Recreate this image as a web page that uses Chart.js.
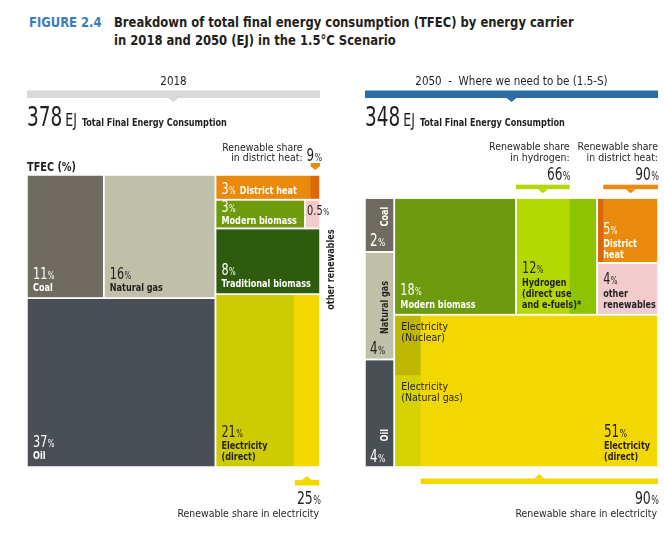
<!DOCTYPE html>
<html>
<head>
<meta charset="utf-8">
<script src="https://cdn.jsdelivr.net/npm/chart.js@4.4.1/dist/chart.umd.min.js"></script>
<style>
  body { margin: 0; background: #fff; width: 664px; height: 538px; overflow: hidden; position: relative;
         font-family: "DejaVu Sans Condensed", "DejaVu Sans", sans-serif; }
  #figno, #title { position: absolute; top: 13px; font-weight: bold; font-size: 14px; line-height: 18px;
                   transform: scaleX(0.92); transform-origin: 0 0; white-space: nowrap; }
  #figno { left: 29px; color: #3a7dbf; }
  #title { left: 114px; color: #231f20; }
  #c2018 { position: absolute; left: 0; top: 0; }
  #c2050 { position: absolute; left: 345px; top: 0; }
</style>
</head>
<body>
<div id="figno">FIGURE 2.4</div>
<div id="title">Breakdown of total final energy consumption (TFEC) by energy carrier<br>in 2018 and 2050 (EJ) in the 1.5°C Scenario</div>
<canvas id="c2018" width="345" height="538"></canvas>
<canvas id="c2050" width="319" height="538"></canvas>
<script>
// ---- data ----
const years = ["2018", "2050"];
const totalEJ = [378, 348];

const carriers2018 = ["Coal", "Natural gas", "Oil", "District heat", "Modern biomass",
  "Other renewables", "Traditional biomass", "Electricity (direct)"];
const share2018 = [11, 16, 37, 3, 3, 0.5, 8, 21];

const carriers2050 = ["Coal", "Natural gas", "Oil", "Modern biomass", "Hydrogen",
  "District heat", "Other renewables", "Electricity (direct)"];
const share2050 = [2, 4, 4, 18, 12, 5, 4, 51];

// renewable share inside a carrier (%)
const reCarriers2018 = ["District heat", "Electricity (direct)"];
const reShare2018 = [9, 25];
const reCarriers2050 = ["Hydrogen", "District heat", "Electricity (direct)"];
const reShare2050 = [66, 90, 90];

// split of the non-renewable electricity in 2050
const nonReElecSources2050 = ["Nuclear", "Natural gas"];
const nonReElecSplit2050 = [40, 60];

// how the cells are nested (h = side by side, v = stacked)
const tree2018 = { dir: "h", kids: [
  { dir: "v", kids: [{ dir: "h", kids: ["Coal", "Natural gas"] }, "Oil"] },
  { dir: "v", kids: ["District heat", { dir: "h", kids: ["Modern biomass", "Other renewables"] },
    "Traditional biomass", "Electricity (direct)"] }
] };
const tree2050 = { dir: "h", kids: [
  { dir: "v", kids: ["Coal", "Natural gas", "Oil"] },
  { dir: "v", kids: [
    { dir: "h", kids: ["Modern biomass", "Hydrogen", { dir: "v", kids: ["District heat", "Other renewables"] }] },
    "Electricity (direct)"] }
] };

const FAMILY = '"DejaVu Sans Condensed", "DejaVu Sans", sans-serif';
const DARK = "#231f20";
const WHITE = "#ffffff";
// horizontal squeeze to get the condensed look of the original type
const SQ_BOLD = 0.82, SQ_REG = 0.95, SQ_NUM = 0.78;

function font(size, bold) {
  return (bold ? "bold " : "") + size + "px " + FAMILY;
}

function valueOf(names, vals, name) {
  return vals[names.indexOf(name)];
}

// slice-and-dice layout in data units (0..100 on both axes, y up)
function buildRects(tree, names, vals) {
  const weight = (node) => typeof node === "string"
    ? valueOf(names, vals, node)
    : node.kids.reduce((s, k) => s + weight(k), 0);
  const out = {};
  (function place(node, r) {
    if (typeof node === "string") { out[node] = r; return; }
    const tot = weight(node);
    let pos = node.dir === "h" ? r.x0 : r.y1;
    node.kids.forEach((k) => {
      const f = weight(k) / tot;
      if (node.dir === "h") {
        const w = (r.x1 - r.x0) * f;
        place(k, { x0: pos, x1: pos + w, y0: r.y0, y1: r.y1 });
        pos += w;
      } else {
        const h = (r.y1 - r.y0) * f;
        place(k, { x0: r.x0, x1: r.x1, y0: pos - h, y1: pos });
        pos -= h;
      }
    });
  })(tree, { x0: 0, x1: 100, y0: 0, y1: 100 });
  return out;
}

function splitX(r, frac) {
  const m = r.x0 + (r.x1 - r.x0) * frac;
  return [{ x0: r.x0, x1: m, y0: r.y0, y1: r.y1 }, { x0: m, x1: r.x1, y0: r.y0, y1: r.y1 }];
}
function splitY(r, frac) {
  const m = r.y1 - (r.y1 - r.y0) * frac;
  return [{ x0: r.x0, x1: r.x1, y0: m, y1: r.y1 }, { x0: r.x0, x1: r.x1, y0: r.y0, y1: m }];
}

// data rect -> pixel box through the chart scales
function toPx(chart, r) {
  const sx = chart.scales.x, sy = chart.scales.y;
  return { l: sx.getPixelForValue(r.x0), r: sx.getPixelForValue(r.x1),
           t: sy.getPixelForValue(r.y1), b: sy.getPixelForValue(r.y0) };
}

function fillBox(ctx, b, color) {
  ctx.fillStyle = color;
  ctx.fillRect(b.l, b.t, b.r - b.l, b.b - b.t);
}
function outline(ctx, b) {
  ctx.strokeStyle = WHITE;
  ctx.lineWidth = 1.5;
  ctx.strokeRect(b.l, b.t, b.r - b.l, b.b - b.t);
}

function textWidth(ctx, s, f, sq) {
  ctx.font = f;
  return ctx.measureText(s).width * sq;
}

function text(ctx, s, x, y, f, color, align, sq) {
  sq = sq || SQ_REG;
  const w = textWidth(ctx, s, f, sq);
  let x0 = x;
  if (align === "right") x0 = x - w;
  else if (align === "center") x0 = x - w / 2;
  ctx.save();
  ctx.fillStyle = color;
  ctx.textAlign = "left";
  ctx.textBaseline = "alphabetic";
  ctx.translate(x0, y);
  ctx.scale(sq, 1);
  ctx.fillText(s, 0, 0);
  ctx.restore();
  return w;
}
const bold = (ctx, s, x, y, color, align) => text(ctx, s, x, y, font(11, true), color, align, SQ_BOLD);
const reg = (ctx, s, x, y, color, align) => text(ctx, s, x, y, font(11, false), color, align, SQ_REG);

function pctWidth(ctx, v, size, sq) {
  return textWidth(ctx, String(v), font(size, false), sq || SQ_NUM) + 0.5 +
    textWidth(ctx, "%", font(Math.round(size * 0.64), false), sq || SQ_NUM);
}
function drawPct(ctx, v, x, y, color, size, align, sq) {
  sq = sq || SQ_NUM;
  if (align === "right") x -= pctWidth(ctx, v, size, sq);
  const w = text(ctx, String(v), x, y, font(size, false), color, "left", sq);
  text(ctx, "%", x + w + 0.5, y, font(Math.round(size * 0.64), false), color, "left", sq);
}

// percent + bold name lines anchored at the bottom-left of a cell
function cellLabel(ctx, b, v, lines, color, padB) {
  const x = b.l + 6;
  let y = b.b - (padB || 7);
  for (let i = lines.length - 1; i >= 0; i--) {
    bold(ctx, lines[i], x, y, color);
    if (i > 0) y -= 11;
  }
  drawPct(ctx, v, x, y - 12.5, color, 16);
}

// share marker bar with a small triangle
function marker(ctx, l, r, yBar0, yBar1, apexY, color) {
  ctx.fillStyle = color;
  ctx.fillRect(l, yBar0, r - l, yBar1 - yBar0);
  const cx = (l + r) / 2;
  const baseY = apexY > yBar1 ? yBar1 : yBar0;
  ctx.beginPath();
  ctx.moveTo(cx - 5, baseY);
  ctx.lineTo(cx + 5, baseY);
  ctx.lineTo(cx, apexY);
  ctx.closePath();
  ctx.fill();
}

function header(ctx, a, label, barColor, total) {
  const cx = (a.left + a.right) / 2;
  text(ctx, label, cx, 85, font(12, false), DARK, "center", 0.96);
  marker(ctx, a.left, a.right, 90.5, 98, 102, barColor);
  let x = a.left;
  x += text(ctx, String(total), x, 126, font(27, false), DARK, "left", 0.76) + 3;
  x += text(ctx, "EJ", x, 126, font(17.5, false), DARK, "left", 0.8) + 5;
  bold(ctx, "Total Final Energy Consumption", x, 126, DARK);
}

function rotated(ctx, s, x, y, color, align) {
  ctx.save();
  ctx.translate(x, y);
  ctx.rotate(-Math.PI / 2);
  bold(ctx, s, 0, 0, color, align);
  ctx.restore();
}

function draw2018(chart) {
  const ctx = chart.ctx, a = chart.chartArea;
  const R = buildRects(tree2018, carriers2018, share2018);
  const B = {};
  Object.keys(R).forEach((k) => { B[k] = toPx(chart, R[k]); });
  const v = (n) => valueOf(carriers2018, share2018, n);

  header(ctx, a, years[0], "#d9d9d9", totalEJ[0]);
  text(ctx, "TFEC (%)", a.left, 171, font(12, true), DARK, "left", 0.9);

  const colors = { "Coal": "#6f6b61", "Natural gas": "#bec1a8", "Oil": "#4a4f56",
    "District heat": "#e98a0c", "Modern biomass": "#6e9b0c", "Other renewables": "#f3cbcb",
    "Traditional biomass": "#2f5b0e", "Electricity (direct)": "#cdcc00" };
  carriers2018.forEach((c) => fillBox(ctx, B[c], colors[c]));

  const dhRe = valueOf(reCarriers2018, reShare2018, "District heat");
  const elRe = valueOf(reCarriers2018, reShare2018, "Electricity (direct)");
  const dhReBox = toPx(chart, splitX(R["District heat"], 1 - dhRe / 100)[1]);
  const elReBox = toPx(chart, splitX(R["Electricity (direct)"], 1 - elRe / 100)[1]);
  fillBox(ctx, dhReBox, "#dc680b");
  fillBox(ctx, elReBox, "#f3d800");
  carriers2018.forEach((c) => outline(ctx, B[c]));

  cellLabel(ctx, B["Coal"], v("Coal"), ["Coal"], WHITE);
  cellLabel(ctx, B["Natural gas"], v("Natural gas"), ["Natural gas"], DARK);
  cellLabel(ctx, B["Oil"], v("Oil"), ["Oil"], WHITE, 8);
  cellLabel(ctx, B["Modern biomass"], v("Modern biomass"), ["Modern biomass"], WHITE, 4);
  cellLabel(ctx, B["Traditional biomass"], v("Traditional biomass"), ["Traditional biomass"], WHITE);
  cellLabel(ctx, B["Electricity (direct)"], v("Electricity (direct)"), ["Electricity", "(direct)"], DARK);

  // district heat on one line
  const dh = B["District heat"];
  drawPct(ctx, v("District heat"), dh.l + 6, dh.b - 6, WHITE, 16);
  bold(ctx, "District heat", dh.l + 6 + pctWidth(ctx, v("District heat"), 16) + 4, dh.b - 6, WHITE);

  // other renewables: number spills out of the thin cell
  const orb = B["Other renewables"];
  const orY = orb.b - 13;
  drawPct(ctx, v("Other renewables"), orb.l + 2, orY, DARK, 14);
  rotated(ctx, "other renewables", orb.r + 13.5, orY + 14, DARK, "right");

  // renewable share in district heat
  const top = dh.t;
  marker(ctx, dhReBox.l, dhReBox.r, top - 12, top - 9, top - 5, "#ef8a10");
  reg(ctx, "Renewable share", dhReBox.l - 8, top - 24.5, DARK, "right");
  reg(ctx, "in district heat:", dhReBox.l - 8, top - 14.5, DARK, "right");
  drawPct(ctx, dhRe, dhReBox.l - 4, top - 14.5, DARK, 17);

  // renewable share in electricity
  const bot = elReBox.b;
  marker(ctx, elReBox.l + 1, elReBox.r - 1, bot + 13, bot + 18.5, bot + 9, "#f3d800");
  drawPct(ctx, elRe, elReBox.r + 1, bot + 37, DARK, 18.5, "right", 0.75);
  reg(ctx, "Renewable share in electricity", elReBox.r - 1, bot + 50, DARK, "right");
}

function draw2050(chart) {
  const ctx = chart.ctx, a = chart.chartArea;
  const R = buildRects(tree2050, carriers2050, share2050);
  const B = {};
  Object.keys(R).forEach((k) => { B[k] = toPx(chart, R[k]); });
  const v = (n) => valueOf(carriers2050, share2050, n);

  header(ctx, a, years[1] + "  -  Where we need to be (1.5-S)", "#2b6ca3", totalEJ[1]);

  const colors = { "Coal": "#6f6b61", "Natural gas": "#bec1a8", "Oil": "#4a4f56",
    "Modern biomass": "#6d9a0e", "Hydrogen": "#8cc402", "District heat": "#d9680b",
    "Other renewables": "#f2cccc", "Electricity (direct)": "#f2d700" };
  carriers2050.forEach((c) => fillBox(ctx, B[c], colors[c]));

  const h2Re = valueOf(reCarriers2050, reShare2050, "Hydrogen");
  const dhRe = valueOf(reCarriers2050, reShare2050, "District heat");
  const elRe = valueOf(reCarriers2050, reShare2050, "Electricity (direct)");
  const h2ReBox = toPx(chart, splitX(R["Hydrogen"], h2Re / 100)[0]);
  const dhReBox = toPx(chart, splitX(R["District heat"], 1 - dhRe / 100)[1]);
  const elParts = splitX(R["Electricity (direct)"], 1 - elRe / 100);
  const elReBox = toPx(chart, elParts[1]);
  const nuc = valueOf(nonReElecSources2050, nonReElecSplit2050, "Nuclear");
  const [nucR, gasR] = splitY(elParts[0], nuc / 100);
  const nucBox = toPx(chart, nucR), gasBox = toPx(chart, gasR);
  fillBox(ctx, h2ReBox, "#b3d800");
  fillBox(ctx, dhReBox, "#ea8a0c");
  fillBox(ctx, nucBox, "#bdb700");
  fillBox(ctx, gasBox, "#d4d200");
  carriers2050.forEach((c) => outline(ctx, B[c]));

  // fossil column: rotated names above the percent
  [["Coal", WHITE], ["Natural gas", DARK], ["Oil", WHITE]].forEach(([c, col]) => {
    const b = B[c];
    const y = b.b - 5.5;
    drawPct(ctx, v(c), b.l + 5, y, col, 17);
    rotated(ctx, c, b.l + 22.5, y - 20, col, "left");
  });

  cellLabel(ctx, B["Modern biomass"], v("Modern biomass"), ["Modern biomass"], WHITE, 7);
  cellLabel(ctx, B["Hydrogen"], v("Hydrogen"), ["Hydrogen", "(direct use", "and e-fuels)*"], DARK);
  cellLabel(ctx, B["District heat"], v("District heat"), ["District", "heat"], WHITE, 5);
  cellLabel(ctx, B["Other renewables"], v("Other renewables"), ["other", "renewables"], DARK);

  const el = B["Electricity (direct)"];
  const ex = el.r - 54;
  bold(ctx, "(direct)", ex, el.b - 7, DARK);
  bold(ctx, "Electricity", ex, el.b - 18, DARK);
  drawPct(ctx, v("Electricity (direct)"), ex, el.b - 30.5, DARK, 17);

  reg(ctx, "Electricity", nucBox.l + 7, nucBox.t + 15, DARK);
  reg(ctx, "(Nuclear)", nucBox.l + 7, nucBox.t + 26, DARK);
  reg(ctx, "Electricity", gasBox.l + 7, gasBox.t + 14, DARK);
  reg(ctx, "(Natural gas)", gasBox.l + 7, gasBox.t + 25, DARK);

  // renewable shares above hydrogen and district heat
  const top = B["Hydrogen"].t;
  [[h2ReBox, h2Re, "in hydrogen:", "#b3d800"], [dhReBox, dhRe, "in district heat:", "#ef8a10"]].forEach(([bx, s, l2, col]) => {
    marker(ctx, bx.l, bx.r, top - 13.5, top - 9, top - 5, col);
    reg(ctx, "Renewable share", bx.r, top - 48, DARK, "right");
    reg(ctx, l2, bx.r, top - 37, DARK, "right");
    drawPct(ctx, s, bx.r + 1, top - 18, DARK, 18, "right", 0.75);
  });

  // renewable share in electricity
  const bot = elReBox.b;
  marker(ctx, elReBox.l, elReBox.r, bot + 11.5, bot + 17, bot + 7, "#f3d800");
  drawPct(ctx, elRe, elReBox.r + 1, bot + 37, DARK, 18.5, "right", 0.75);
  reg(ctx, "Renewable share in electricity", elReBox.r - 1, bot + 50, DARK, "right");
}

function makeChart(id, yMax, padding, drawFn) {
  return new Chart(document.getElementById(id), {
    type: "scatter",
    data: { datasets: [] },
    options: {
      responsive: false,
      animation: false,
      events: [],
      layout: { padding: padding },
      scales: {
        x: { type: "linear", min: 0, max: 100, display: false },
        y: { type: "linear", min: 0, max: yMax, display: false }
      },
      plugins: { legend: { display: false }, tooltip: { enabled: false } }
    },
    plugins: [{ id: "cells", afterDraw: drawFn }]
  });
}

// the two treemaps share pixel height per EJ, so 2050 is shorter
makeChart("c2018", 100, { left: 27, right: 25, top: 175, bottom: 71 }, draw2018);
makeChart("c2050", 100 * totalEJ[0] / totalEJ[1], { left: 20, right: 6, top: 175, bottom: 71 }, draw2050);
</script>
</body>
</html>
